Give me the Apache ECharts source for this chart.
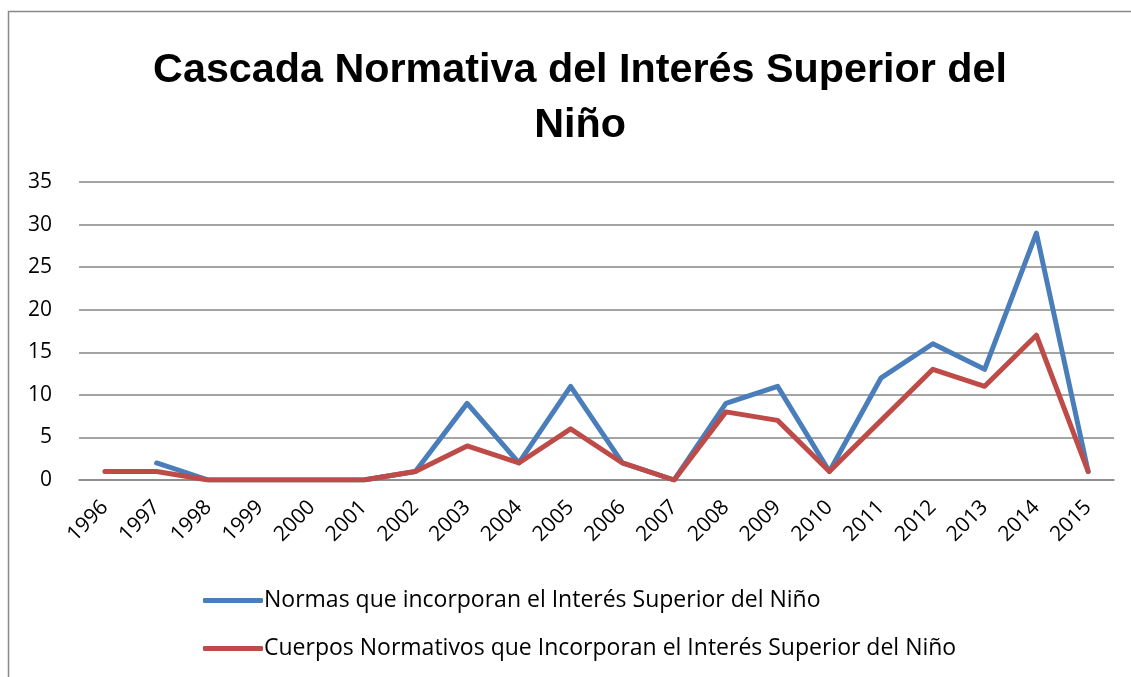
<!DOCTYPE html>
<html>
<head>
<meta charset="utf-8">
<script src="https://cdn.jsdelivr.net/npm/echarts@6/dist/echarts.min.js"></script>
<style>
  html, body { margin: 0; padding: 0; background: #fff; }
  #chart { width: 1131px; height: 677px; }
</style>
</head>
<body>
<div id="chart"></div>
<script>
const years = ['1996', '1997', '1998', '1999', '2000', '2001', '2002', '2003', '2004', '2005',
  '2006', '2007', '2008', '2009', '2010', '2011', '2012', '2013', '2014', '2015']
const normas = [null, 2, 0, 0, 0, 0, 1, 9, 2, 11, 2, 0, 9, 11, 1, 12, 16, 13, 29, 1]
const cuerpos = [1, 1, 0, 0, 0, 0, 1, 4, 2, 6, 2, 0, 8, 7, 1, 7, 13, 11, 17, 1]
const seriesNames = [
  'Normas que incorporan el Interés Superior del Niño',
  'Cuerpos Normativos que Incorporan el Interés Superior del Niño',
]

const font = '"Open Sans", "Liberation Sans", sans-serif'
const chart = echarts.init(document.getElementById('chart'))

chart.setOption({
  animation: false,
  color: ['#4a7ebb', '#be4b48'],
  textStyle: { fontFamily: font },
  title: {
    text: 'Cascada Normativa del Interés Superior del\nNiño',
    left: 575,
    textAlign: 'center',
    top: 38,
    textStyle: {
      fontSize: 41.3, fontWeight: 'bold', color: '#000', lineHeight: 55,
      fontFamily: '"Liberation Sans", Arial, sans-serif',
    },
  },
  graphic: [{
    type: 'rect',
    shape: { x: 8.5, y: 11.5, width: 1140, height: 700 },
    style: { fill: 'none', stroke: '#888', lineWidth: 1.5 },
    silent: true,
  }],
  legend: {
    orient: 'vertical',
    left: 198,
    top: 584,
    itemGap: 25,
    itemWidth: 60,
    itemHeight: 5,
    icon: 'roundRect',
    textStyle: { fontSize: 23, color: '#000', padding: [0, 0, 0, -4] },
    data: seriesNames,
  },
  grid: { left: 79, right: 17, top: 182, height: 298 },
  xAxis: {
    type: 'category',
    data: years,
    axisLine: { lineStyle: { color: '#868686', width: 1.5 } },
    axisTick: { show: false },
    axisLabel: { rotate: 45, fontSize: 21, color: '#000', margin: 24, interval: 0 },
  },
  yAxis: {
    type: 'value',
    min: 0,
    max: 35,
    interval: 5,
    axisLine: { show: false },
    axisTick: { show: false },
    splitLine: { lineStyle: { color: '#868686', width: 1.5 } },
    axisLabel: { fontSize: 21, color: '#000', margin: 27 },
  },
  series: [
    {
      name: seriesNames[0],
      type: 'line',
      data: normas,
      symbol: 'none',
      lineStyle: { width: 5, cap: 'round', join: 'round' },
      z: 2,
    },
    {
      name: seriesNames[1],
      type: 'line',
      data: cuerpos,
      symbol: 'none',
      lineStyle: { width: 5, cap: 'round', join: 'round' },
      z: 3,
    },
  ],
})
</script>
</body>
</html>
